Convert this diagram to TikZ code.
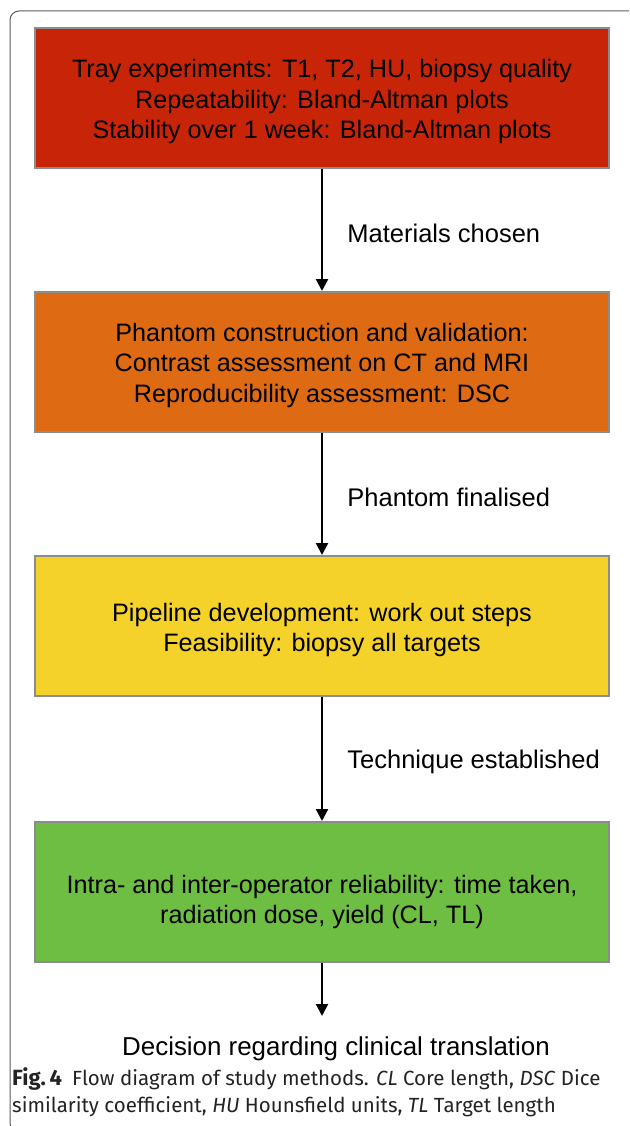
\documentclass[tikz,border=0pt]{standalone}
\usepackage{fontspec}
\setmainfont{Liberation Sans}
\newfontfamily\captionfont{Fira Sans}
\usetikzlibrary{arrows.meta}

\definecolor{stagered}{RGB}{200,37,8}
\definecolor{stageorange}{RGB}{222,106,20}
\definecolor{stageyellow}{RGB}{244,210,42}
\definecolor{stagegreen}{RGB}{110,190,67}
\definecolor{boxgray}{RGB}{140,140,140}
\definecolor{framegray}{RGB}{90,90,90}
\definecolor{captext}{RGB}{35,35,35}

\tikzset{
  stage/.style={draw=boxgray, line width=2pt, minimum width=574pt, minimum height=140pt,
    align=center, inner sep=0pt, font=\fontsize{25.2}{30.5}\selectfont,
    text height=#1},
  flow/.style={-{Triangle[length=12pt,width=12pt]}, line width=2.2pt},
  steplabel/.style={right=21pt, yshift=-3pt, font=\fontsize{25.5}{29}\selectfont},
  captionline/.style={anchor=base west, text=captext, inner sep=0pt,
    font=\captionfont\fontsize{20.5}{27}\selectfont}
}

\begin{document}
\begin{tikzpicture}[x=1pt,y=-1pt]
  \useasboundingbox (0,0) rectangle (629,1126);
  \clip (0,0) rectangle (629,1126);

  % Outer frame
  \draw[framegray, line width=1pt, rounded corners=9pt] (10,11) rectangle (700,1132);

  % Study stages
  \node[stage=87pt, fill=stagered] (tray) at (322,98)
    {Tray experiments: T1, T2, HU, biopsy quality\\
     Repeatability: Bland-Altman plots\\
     Stability over 1 week: Bland-Altman plots};
  \node[stage=86pt, fill=stageorange] (phantom) at (322,362)
    {Phantom construction and validation:\\
     Contrast assessment on CT and MRI\\
     Reproducibility assessment: DSC};
  \node[stage=57pt, fill=stageyellow] (pipeline) at (322,626)
    {Pipeline development: work out steps\\
     Feasibility: biopsy all targets};
  \node[stage=69pt, fill=stagegreen] (reliab) at (322,892)
    {Intra- and inter-operator reliability: time taken,\\
     radiation dose, yield (CL, TL)};

  % Outcome
  \node[anchor=base, font=\fontsize{25.9}{29}\selectfont] (decision) at (336,1055)
    {Decision regarding clinical translation};
  \coordinate (tip) at (322,1016);

  % Arrows between stages
  \draw[flow] (tray) -- node[steplabel]{Materials chosen} (phantom);
  \draw[flow] (phantom) -- node[steplabel]{Phantom finalised} (pipeline);
  \draw[flow] (pipeline) -- node[steplabel]{Technique established} (reliab);
  \draw[flow] (reliab) -- (tip);

  % Caption
  \node[captionline] (cap1) at (12,1085)
    {{\fontsize{22}{27}\selectfont\textbf{Fig.\,4}}\enspace Flow diagram of study methods. \textit{CL} Core length, \textit{DSC} Dice};
  \node[captionline] (cap2) at (12,1112)
    {similarity coefficient, \textit{HU} Hounsfield units, \textit{TL} Target length};
\end{tikzpicture}
\end{document}
